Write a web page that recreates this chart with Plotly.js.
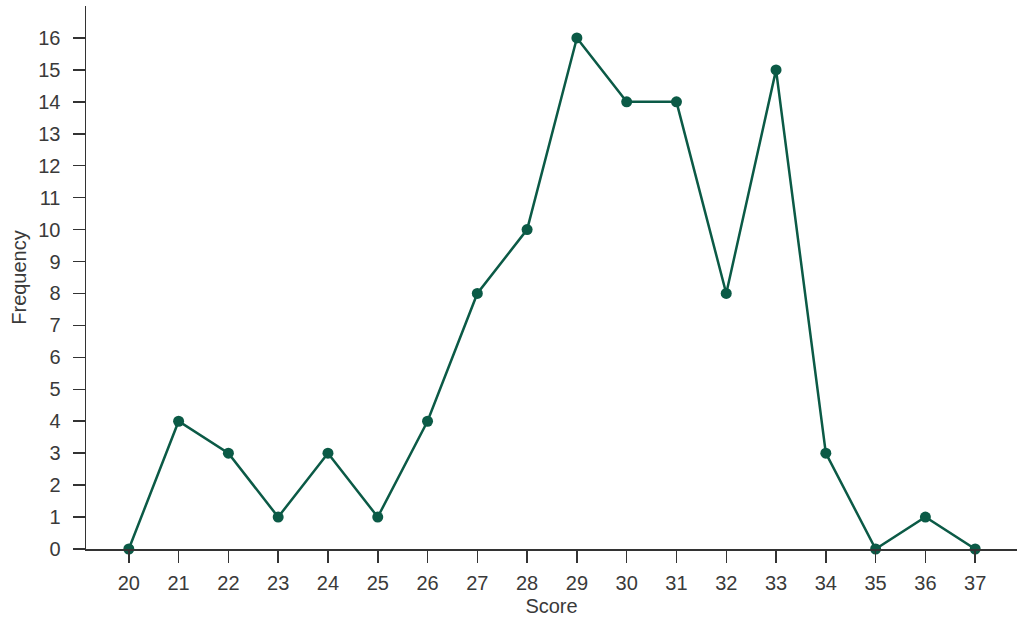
<!DOCTYPE html>
<html>
<head>
<meta charset="utf-8">
<script src="https://cdn.plot.ly/plotly-3.0.1.min.js"></script>
<style>html,body{margin:0;padding:0;background:#fff;}#chart{width:1024px;height:622px;}</style>
</head>
<body>
<div id="chart"></div>
<script>
const scores = [20,21,22,23,24,25,26,27,28,29,30,31,32,33,34,35,36,37];
const frequency = [0,4,3,1,3,1,4,8,10,16,14,14,8,15,3,0,1,0];
const yTicks = [0,1,2,3,4,5,6,7,8,9,10,11,12,13,14,15,16];

const green = '#0b5a46';
const fontFam = '"Liberation Sans", Arial, sans-serif';
const txt = '#3a3a3a';

const trace = {
  x: scores, y: frequency, type: 'scatter', mode: 'lines+markers',
  line: {color: green, width: 2.5},
  marker: {color: green, size: 11},
  cliponaxis: false, hoverinfo: 'x+y'
};

const layout = {
  width: 1024, height: 622,
  margin: {l: 86, r: 7, t: 6, b: 73},
  paper_bgcolor: '#fff', plot_bgcolor: '#fff',
  showlegend: false,
  font: {family: fontFam, size: 20, color: txt},
  xaxis: {
    range: [19.14, 37.84], tickvals: scores, ticktext: scores.map(String),
    showgrid: false, zeroline: false, showline: true, linecolor: '#333', linewidth: 1.5,
    ticks: 'outside', ticklen: 12, tickwidth: 1.5, tickcolor: '#333',
    ticklabelstandoff: 3,
    title: {text: 'Score', font: {family: fontFam, size: 20, color: txt}, standoff: 6},
    tickfont: {family: fontFam, size: 20, color: txt}
  },
  yaxis: {
    range: [0, 17], tickvals: yTicks, ticktext: yTicks.map(String),
    showgrid: false, zeroline: false, showline: true, linecolor: '#333', linewidth: 1.5,
    ticks: 'outside', ticklen: 12, tickwidth: 1.5, tickcolor: '#333',
    ticklabelstandoff: 8,
    title: {text: 'Frequency', font: {family: fontFam, size: 20, color: txt}, standoff: 6},
    tickfont: {family: fontFam, size: 20, color: txt}
  }
};

Plotly.newPlot('chart', [trace], layout, {displayModeBar: false, staticPlot: true});
</script>
</body>
</html>
